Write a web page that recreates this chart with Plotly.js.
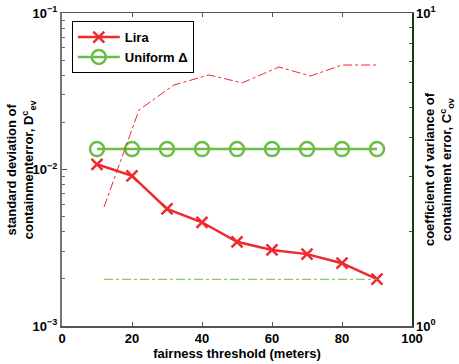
<!DOCTYPE html>
<html>
<head>
<meta charset="utf-8">
<script src="https://cdn.plot.ly/plotly-3.0.1.min.js"></script>
<style>html,body{margin:0;padding:0;background:#fff;}#chart{width:459px;height:364px;}</style>
</head>
<body>
<div id="chart"></div>
<script>
// Data
var thresholds = [10, 20, 30, 40, 50, 60, 70, 80, 90];
var liraStd = [0.0108, 0.0091, 0.0056, 0.0046, 0.00345, 0.00306, 0.00288, 0.00252, 0.00199];
var uniformStd = [0.0135, 0.0135, 0.0135, 0.0135, 0.0135, 0.0135, 0.0135, 0.0135, 0.0135];
var cvX = [12, 22, 32, 42, 51.5, 62, 71, 80, 90];
var liraCv = [2.40, 4.90, 5.89, 6.34, 5.98, 6.72, 6.29, 6.82, 6.82];
var uniformCv = [1.41, 1.41, 1.41, 1.41, 1.41, 1.41, 1.41, 1.41, 1.41];
var leftTickVals = [0.001, 0.01, 0.1];
var leftTickText = ['10<sup>\u22123</sup>', '10<sup>\u22122</sup>', '10<sup>\u22121</sup>'];
var rightTickVals = [1, 10];
var rightTickText = ['10<sup>0</sup>', '10<sup>1</sup>'];

function minorLog(decades) {
  var out = [];
  decades.forEach(function (d) { for (var k = 2; k <= 9; k++) out.push(k * d); });
  return out;
}

var RED = '#ee2a2e', GREEN = '#6cbd45';
var F = 'Liberation Sans, Arial, Helvetica, sans-serif';

var traces = [
  {x: thresholds, y: liraStd, name: 'Lira', type: 'scatter', mode: 'lines+markers',
   line: {color: RED, width: 2.5}, marker: {symbol: 'x-thin', size: 11, line: {color: RED, width: 2.5}, color: RED}},
  {x: thresholds, y: uniformStd, name: 'Uniform \u0394', type: 'scatter', mode: 'lines+markers',
   line: {color: GREEN, width: 2.5}, marker: {symbol: 'circle-open', size: 14, line: {color: GREEN, width: 2.5}, color: GREEN}},
  {x: cvX, y: liraCv, yaxis: 'y2', showlegend: false, type: 'scatter', mode: 'lines',
   line: {color: RED, width: 1, dash: 'dashdot'}},
  {x: cvX, y: uniformCv, yaxis: 'y2', showlegend: false, type: 'scatter', mode: 'lines',
   line: {color: GREEN, width: 1, dash: 'dashdot'}}
];

var titleFont = {family: F, size: 13, weight: 'bold', color: '#000'};

var layout = {
  width: 459, height: 364,
  margin: {l: 62, r: 47, t: 13, b: 38},
  paper_bgcolor: '#fff', plot_bgcolor: '#fff',
  font: {family: F, size: 12, color: '#000', weight: 'bold'},
  showlegend: true,
  legend: {x: 0.028, y: 0.974, xanchor: 'left', yanchor: 'top', bgcolor: '#fff',
           bordercolor: '#000', borderwidth: 1, font: {family: F, size: 13, weight: 'bold'},
           itemwidth: 42, tracegroupgap: 0},
  xaxis: {range: [0, 100], dtick: 20, ticks: 'inside', ticklen: 4, tickcolor: '#555',
          showline: true, linecolor: '#555', linewidth: 1.5, mirror: 'ticks', showgrid: false, zeroline: false,
          tickfont: {family: F, size: 13, weight: 'bold'},
          title: {text: 'fairness threshold (meters)', font: titleFont, standoff: 4}},
  yaxis: {type: 'log', range: [-3, -1], tickvals: leftTickVals, ticktext: leftTickText, ticks: 'inside', ticklen: 5,
          tickcolor: '#3050a0', showline: true, linecolor: '#777', linewidth: 2, showgrid: false, zeroline: false,
          minor: {tickvals: minorLog([0.001, 0.01]), ticks: 'inside', ticklen: 3, tickcolor: '#5070c0', showgrid: false},
          tickfont: {family: F, size: 13, weight: 'bold'}},
  yaxis2: {type: 'log', range: [0, 1], tickvals: rightTickVals, ticktext: rightTickText, overlaying: 'y', side: 'right',
           ticks: 'inside', ticklen: 5, tickcolor: '#1a4a1a', showline: true, linecolor: '#1a3a1a', linewidth: 1.5,
           showgrid: false, zeroline: false,
           minor: {tickvals: minorLog([1]), ticks: 'inside', ticklen: 3, tickcolor: '#2a6a2a', showgrid: false},
           tickfont: {family: F, size: 13, weight: 'bold'}},
  annotations: [
    {text: 'standard deviation of<br>containmenterror, D<sup>c</sup><sub>ev</sub>', textangle: -90,
     xref: 'paper', yref: 'paper', x: -0.118, y: 0.5, xanchor: 'center', yanchor: 'middle',
     showarrow: false, font: titleFont},
    {text: 'coefficient of variance of<br>containment error, C<sup>c</sup><sub>ov</sub>', textangle: -90,
     xref: 'paper', yref: 'paper', x: 1.076, y: 0.5, xanchor: 'center', yanchor: 'middle',
     showarrow: false, font: titleFont}
  ]
};

Plotly.newPlot('chart', traces, layout, {displayModeBar: false, staticPlot: true});
</script>
</body>
</html>
